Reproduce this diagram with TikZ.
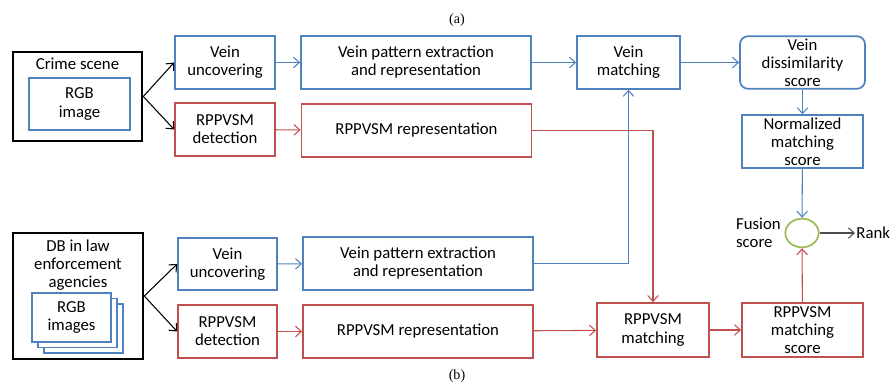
\documentclass[tikz,border=0pt]{standalone}
\usepackage{fontspec}
\setmainfont{Carlito}
\newfontfamily\capfont{Liberation Serif}
\usepackage{tikz}
\usetikzlibrary{arrows.meta}
\usetikzlibrary{shapes.geometric}

\definecolor{veinblue}{HTML}{4F81BD}
\definecolor{rppred}{HTML}{C0504D}
\definecolor{fusegreen}{HTML}{9BBB59}

\begin{document}
\begin{tikzpicture}
[x=0.03cm,y=-0.03cm,%
  >={Straight Barb[length=5pt,width=9pt]},%
  every node/.style={align=center,inner sep=1pt},%
  caption/.style={font=\capfont\fontsize{12}{14}\selectfont},%
  box/.style={draw,line width=1.5pt,minimum height=1.58cm},%
  bluebox/.style={box,draw=veinblue},%
  redbox/.style={box,draw=rppred},%
  source/.style={draw=black,line width=2.2pt},%
  bluearr/.style={->,draw=veinblue,line width=0.9pt},%
  redarr/.style={->,draw=rppred,line width=0.9pt},%
  blackarr/.style={->,draw=black,line width=0.9pt}]
\fontsize{14.3}{15.4}\selectfont
\useasboundingbox (0,0) rectangle (890,383);

\node[caption] (capa) at (457,20) {(a)};
\node[caption] (capb) at (457,376) {(b)};

% probe from the crime scene
\node[source,minimum width=3.87cm,minimum height=2.67cm] (crime) at (77.5,96.5) {};
\node (crimelbl) at (77.5,64) {Crime scene};
\node[bluebox,line width=1.3pt,minimum width=3.03cm,minimum height=1.56cm] (rgb) at (79.5,104) {RGB\\image};
\node[bluebox,minimum width=3cm] (vunca) at (225,62.5) {Vein\\uncovering};
\node[redbox,minimum width=3cm] (rdeta) at (225,129.5) {RPPVSM\\detection};
\node[bluebox,minimum width=6.9cm] (vexta) at (416,62.5) {Vein pattern extraction\\and representation};
\node[redbox,minimum width=6.9cm] (rrepa) at (416.5,130.5) {RPPVSM representation};

% gallery side
\node[source,minimum width=3.9cm,minimum height=3.78cm] (db) at (78,296) {};
\node (dblbl) at (78,265) {DB in law\\enforcement\\agencies};
\foreach \d in {12,6}
  \node[bluebox,line width=1.3pt,fill=white,minimum width=2.37cm,minimum height=1.47cm] at (71.5+\d,317.5+\d*0.9) {};
\node[bluebox,line width=1.3pt,fill=white,minimum width=2.37cm,minimum height=1.47cm] (rgbs) at (71.5,317.5) {RGB\\images};
\node[bluebox,minimum width=2.97cm] (vuncb) at (227.5,264) {Vein\\uncovering};
\node[redbox,minimum width=2.97cm] (rdetb) at (227.5,331.5) {RPPVSM\\detection};
\node[bluebox,minimum width=6.9cm] (vextb) at (418,263.5) {Vein pattern extraction\\and representation};
\node[redbox,minimum width=6.9cm] (rrepb) at (418,331.5) {RPPVSM representation};

% matching and scores
\node[bluebox,minimum width=3.09cm] (vmatch) at (628.5,62.5) {Vein\\matching};
\node[bluebox,rounded corners=7pt,minimum width=3.75cm] (vdis) at (802.5,62.5) {Vein\\dissimilarity\\score};
\node[bluebox,minimum width=3.63cm] (vnorm) at (802.5,141.5) {Normalized\\matching\\score};
\node[redbox,minimum width=3.36cm,minimum height=1.62cm] (rmatch) at (653,330) {RPPVSM\\matching};
\node[redbox,minimum width=3.63cm,minimum height=1.62cm] (rscore) at (802.5,330) {RPPVSM\\matching\\score};
\node[ellipse,draw=fusegreen,line width=1.5pt,minimum width=1cm,minimum height=0.86cm] (fusion) at (802,233) {};
\node[anchor=east,align=left] (fuselbl) at ([xshift=-2pt]fusion.west) {Fusion\\score};
\node[anchor=west] (rank) at (855,233) {Rank};

\draw[blackarr] (crime.east) -- (vunca.west);
\draw[blackarr] (crime.east) -- (rdeta.west);
\draw[blackarr] (db.east) -- (vuncb.west);
\draw[blackarr] (db.east) -- (rdetb.west);
\draw[bluearr] (vunca) -- (vexta);
\draw[bluearr] (vexta) -- (vmatch);
\draw[bluearr] (vmatch) -- (vdis);
\draw[bluearr] (vdis) -- (vnorm);
\draw[bluearr] (vnorm) -- (fusion);
\draw[bluearr] (vuncb) -- (vextb);
\draw[bluearr] (vextb.east) -| (vmatch.south);
\draw[redarr] (rdeta) -- (rrepa);
\draw[redarr] (rrepa.east) -| (rmatch.north);
\draw[redarr] (rdetb) -- (rrepb);
\draw[redarr] (rrepb) -- (rmatch);
\draw[redarr] (rmatch) -- (rscore);
\draw[redarr] (rscore) -- (fusion);
\draw[->,draw=black!70,line width=0.9pt] (fusion) -- (rank);
\end{tikzpicture}
\end{document}
